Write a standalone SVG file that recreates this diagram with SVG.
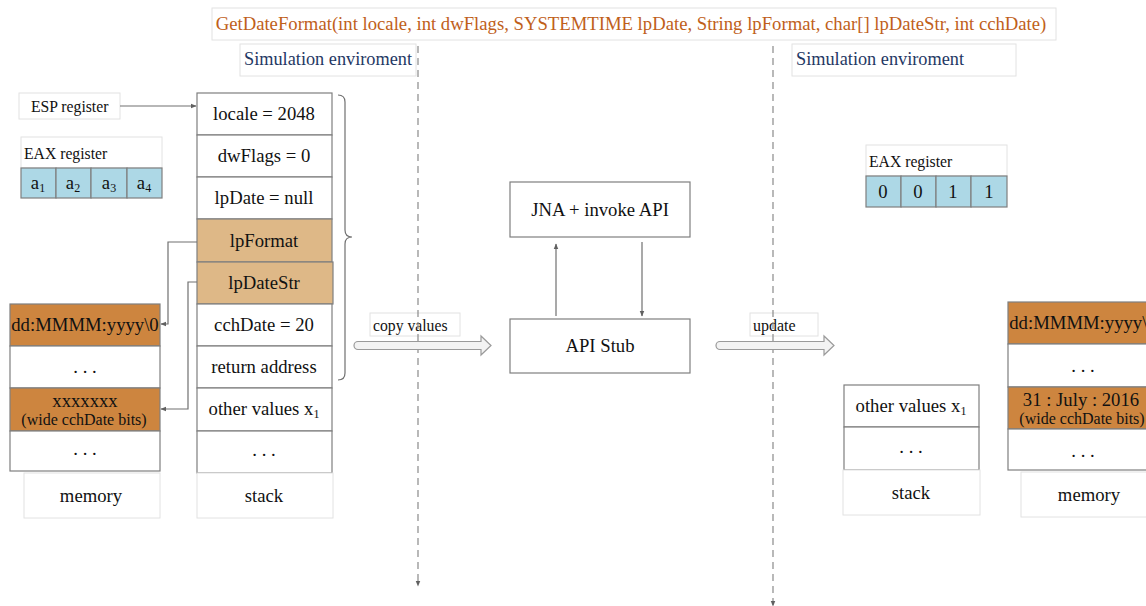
<svg xmlns="http://www.w3.org/2000/svg" width="1146" height="606" viewBox="0 0 1146 606">
<style>
text{font-family:"Liberation Serif","Times New Roman","DejaVu Serif",serif;fill:#111;}
.cell{fill:#fff;stroke:#7f7f7f;stroke-width:1.2;}
.tan{fill:#DEB887;stroke:#7f7f7f;stroke-width:1.2;}
.org{fill:#CD853F;stroke:#7f7f7f;stroke-width:1.2;}
.blue{fill:#ADD8E6;stroke:#7f7f7f;stroke-width:1.2;}
.lbl{fill:#fff;stroke:#e2e2e2;stroke-width:1;}
.t17{font-size:18.7px;text-anchor:middle;}
.t14{font-size:15.7px;}
.sub{font-size:12px;}
.conn{fill:none;stroke:#707070;stroke-width:1.2;}
.dash{fill:none;stroke:#8a8a8a;stroke-width:1.2;stroke-dasharray:7,5;}
.big{fill:#f3f3f3;stroke:#9a9a9a;stroke-width:1.2;}
</style>
<defs>
<marker id="ah" viewBox="0 0 10 10" refX="9" refY="5" markerWidth="5" markerHeight="5" orient="auto"><path d="M0,1 L10,5 L0,9 Z" fill="#606060"/></marker>
</defs>
<rect width="1146" height="606" fill="#fff"/>

<g id="title">
<rect class="lbl" x="212" y="8" width="844" height="32"/>
<text x="631" y="30" style="font-size:18.7px;text-anchor:middle;fill:#C0601A">GetDateFormat(int locale, int dwFlags, SYSTEMTIME lpDate, String lpFormat, char[] lpDateStr, int cchDate)</text>
</g>
<g id="sim-left">
<rect class="lbl" x="240" y="44" width="176" height="32"/>
<text x="244" y="65" style="font-size:18.3px;fill:#1F3864">Simulation enviroment</text>
</g>
<g id="sim-right">
<rect class="lbl" x="792" y="44" width="224" height="32"/>
<text x="796" y="65" style="font-size:18.3px;fill:#1F3864">Simulation enviroment</text>
</g>

<g id="esp">
<rect class="lbl" x="19" y="93" width="101" height="26"/>
<text x="31" y="112" class="t14">ESP register</text>
</g>
<g id="eax-left">
<rect class="lbl" x="21" y="137" width="141" height="31"/>
<text x="24" y="159" class="t14">EAX register</text>
<rect class="blue" x="21" y="168" width="35" height="30"/>
<rect class="blue" x="56" y="168" width="35" height="30"/>
<rect class="blue" x="91" y="168" width="36" height="30"/>
<rect class="blue" x="127" y="168" width="35" height="30"/>
<text x="38" y="189" class="t17">a<tspan class="sub" dy="3">1</tspan></text>
<text x="73" y="189" class="t17">a<tspan class="sub" dy="3">2</tspan></text>
<text x="109" y="189" class="t17">a<tspan class="sub" dy="3">3</tspan></text>
<text x="144" y="189" class="t17">a<tspan class="sub" dy="3">4</tspan></text>
</g>

<g id="stack-left">
<rect class="cell" x="197" y="93" width="135" height="42"/>
<rect class="cell" x="197" y="135" width="135" height="42"/>
<rect class="cell" x="197" y="177" width="135" height="42"/>
<rect class="tan" x="197" y="219" width="135" height="43"/>
<rect class="tan" x="197" y="262" width="136" height="42"/>
<rect class="cell" x="197" y="304" width="135" height="42"/>
<rect class="cell" x="197" y="346" width="135" height="42"/>
<rect class="cell" x="197" y="388" width="135" height="43"/>
<rect class="cell" x="197" y="431" width="135" height="42"/>
<rect class="lbl" x="197" y="473" width="136" height="45"/>
<text x="264" y="120" class="t17">locale = 2048</text>
<text x="264" y="162" class="t17">dwFlags = 0</text>
<text x="264" y="204" class="t17">lpDate = null</text>
<text x="264" y="247" class="t17">lpFormat</text>
<text x="264" y="289" class="t17">lpDateStr</text>
<text x="264" y="331" class="t17">cchDate = 20</text>
<text x="264" y="373" class="t17">return address</text>
<text x="264" y="415" class="t17">other values x<tspan class="sub" dy="3">1</tspan></text>
<text x="264" y="456" class="t17">. . .</text>
<text x="264" y="502" class="t17">stack</text>
</g>

<g id="brace">
<path class="conn" d="M338 95 Q345 95 345 102 L345 230 Q345 237 352 237 Q345 237 345 244 L345 373 Q345 380 338 380" stroke="#909090"/>
</g>

<g id="memory-left">
<rect class="org" x="10" y="304" width="150" height="42"/>
<rect class="cell" x="10" y="346" width="150" height="42"/>
<rect class="org" x="10" y="388" width="150" height="43"/>
<rect class="cell" x="10" y="431" width="150" height="40"/>
<rect class="lbl" x="24" y="473" width="136" height="45"/>
<text x="85" y="331" class="t17">dd:MMMM:yyyy\0</text>
<text x="85" y="373" class="t17">. . .</text>
<text x="85" y="407" class="t17">xxxxxxx</text>
<text x="84" y="425" style="font-size:16px;text-anchor:middle">(wide cchDate bits)</text>
<text x="85" y="455" class="t17">. . .</text>
<text x="91" y="502" class="t17">memory</text>
</g>

<g id="jna">
<rect class="cell" x="510" y="182" width="180" height="55"/>
<text x="600" y="216" class="t17">JNA + invoke API</text>
</g>
<g id="stub">
<rect class="cell" x="510" y="319" width="180" height="54"/>
<text x="600" y="352" class="t17">API Stub</text>
</g>

<g id="copy-label">
<rect class="lbl" x="370" y="313" width="90" height="23"/>
<text x="373" y="331" style="font-size:15.7px">copy values</text>
</g>
<g id="update-label">
<rect class="lbl" x="750" y="313" width="68" height="23"/>
<text x="753" y="331" style="font-size:16px">update</text>
</g>

<g id="eax-right">
<rect class="lbl" x="866" y="145" width="141" height="31"/>
<text x="869" y="167" class="t14">EAX register</text>
<rect class="blue" x="866" y="176" width="35" height="31"/>
<rect class="blue" x="901" y="176" width="35" height="31"/>
<rect class="blue" x="936" y="176" width="35" height="31"/>
<rect class="blue" x="971" y="176" width="36" height="31"/>
<text x="883" y="198" class="t17">0</text>
<text x="918" y="198" class="t17">0</text>
<text x="953" y="198" class="t17">1</text>
<text x="989" y="198" class="t17">1</text>
</g>

<g id="stack-right">
<rect class="cell" x="844" y="385" width="135" height="42"/>
<rect class="cell" x="844" y="427" width="135" height="43"/>
<rect class="lbl" x="843" y="470" width="137" height="45"/>
<text x="911" y="412" class="t17">other values x<tspan class="sub" dy="3">1</tspan></text>
<text x="911" y="453" class="t17">. . .</text>
<text x="911" y="499" class="t17">stack</text>
</g>

<g id="memory-right">
<rect class="org" x="1008" y="302" width="150" height="42"/>
<rect class="cell" x="1008" y="344" width="150" height="43"/>
<rect class="org" x="1008" y="387" width="150" height="42"/>
<rect class="cell" x="1008" y="429" width="150" height="41"/>
<rect class="lbl" x="1021" y="472" width="136" height="45"/>
<text x="1083" y="329" class="t17">dd:MMMM:yyyy\0</text>
<text x="1083" y="372" class="t17">. . .</text>
<text x="1081" y="406" class="t17">31 : July : 2016</text>
<text x="1082" y="424" style="font-size:16px;text-anchor:middle">(wide cchDate bits)</text>
<text x="1083" y="457" class="t17">. . .</text>
<text x="1089" y="501" class="t17">memory</text>
</g>

<g id="connectors">
<path class="dash" d="M418 46 L418 586" marker-end="url(#ah)"/>
<path class="dash" d="M773 46 L773 606" marker-end="url(#ah)"/>
<path class="conn" d="M120 106 L196 106" marker-end="url(#ah)"/>
<path class="conn" d="M197 242 L168 242 L168 324 L161 324" marker-end="url(#ah)"/>
<path class="conn" d="M197 282 L188 282 L188 409 L161 409" marker-end="url(#ah)"/>
<path class="conn" d="M556 316 L556 244" marker-end="url(#ah)"/>
<path class="conn" d="M642 242 L642 316" marker-end="url(#ah)"/>
<path class="big" d="M358 341.5 L481 341.5 L481 336 L491 345.5 L481 355 L481 349.5 L358 349.5 A4 4 0 0 1 358 341.5 Z"/>
<path class="big" d="M720 341.5 L824 341.5 L824 336 L834 345.5 L824 355 L824 349.5 L720 349.5 A4 4 0 0 1 720 341.5 Z"/>
</g>
</svg>
